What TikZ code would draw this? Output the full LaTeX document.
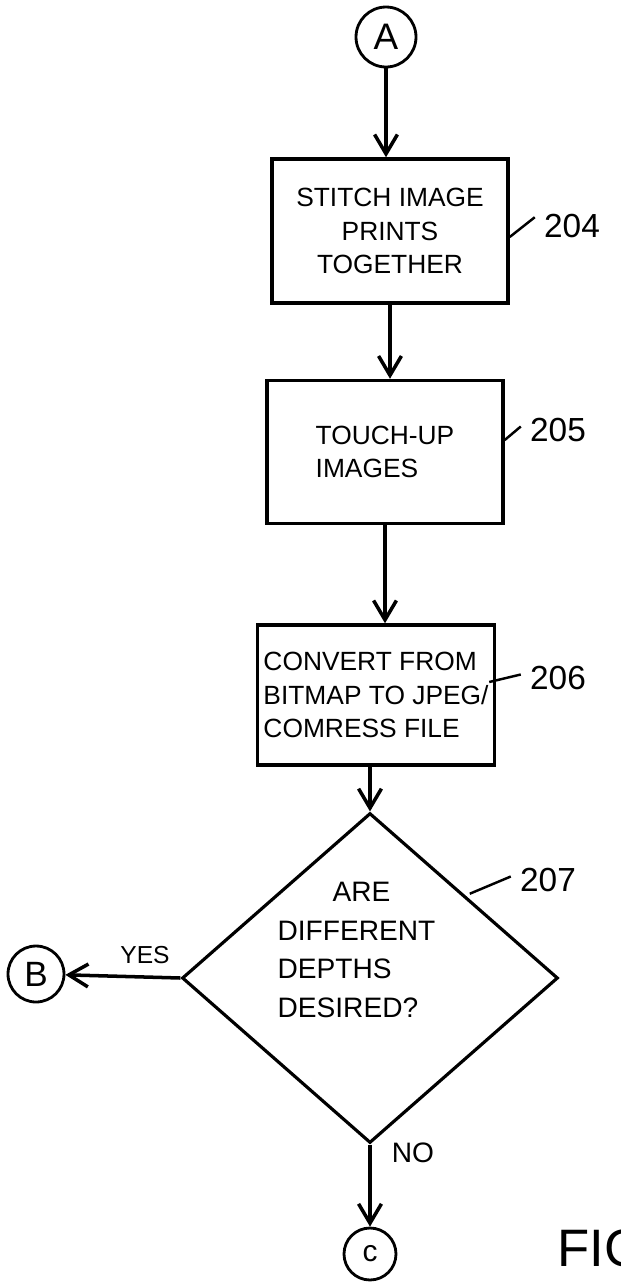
\documentclass[tikz,border=0pt]{standalone}
\usepackage{fontspec}
\setmainfont{Liberation Sans}
\usetikzlibrary{arrows.meta, shapes.geometric}

\begin{document}
\begin{tikzpicture}[
    x=0.02cm, y=-0.02cm,
    box/.style={draw, line width=2pt, minimum width=4.72cm, minimum height=2.88cm, align=center, font=\fontsize{15}{19}\selectfont},
    conn/.style={draw, circle, line width=1.6pt, inner sep=0pt},
    dia/.style={draw, diamond, line width=1.8pt, minimum width=7.52cm, minimum height=6.6cm, inner sep=0pt},
    ref/.style={font=\fontsize{19}{19}\selectfont},
    >={Straight Barb[length=11pt,width=13pt]}, line width=2pt
]
  \useasboundingbox (0,0) rectangle (621,1282);
  \clip (0,0) rectangle (621,1282);

  \node[conn, minimum size=1.2cm, font=\fontsize{21}{21}\selectfont] (A) at (386,37) {A};

  \node[box] (s1) at (390,231) {STITCH IMAGE\\PRINTS\\TOGETHER};
  \node[box, align=left, minimum height=2.86cm] (s2) at (385,452) {TOUCH-UP\\IMAGES};
  \node[box, align=left, minimum width=4.74cm, minimum height=2.8cm] (s3) at (376,695) {CONVERT FROM\\BITMAP TO JPEG/\\COMRESS FILE};

  \node[dia] (d) at (370,978) {};
  \node[anchor=west, align=left, font=\fontsize{16}{22}\selectfont] (q) at (270,950) {\hspace*{1.1cm}ARE\\DIFFERENT\\DEPTHS\\DESIRED?};

  \node[conn, minimum size=1.12cm, font=\fontsize{20}{20}\selectfont] (B) at (36,974) {B};
  \node[conn, minimum size=1.04cm, font=\fontsize{17}{17}\selectfont] (C) at (370,1254) {c};

  \draw[->] (A) -- (A |- s1.north);
  \draw[->] (s1.south) -- (s1.south |- s2.north);
  \draw[->] (s2.south) -- (s2.south |- s3.north);
  \draw[->] (d.north |- s3.south) -- (d.north);
  \draw[->] (d.west) -- (B);
  \draw[->] (d.south) -- (C);

  \node[font=\fontsize{14}{14}\selectfont] (yes) at (145,955) {YES};
  \node[font=\fontsize{16}{16}\selectfont] (no) at (413,1153) {NO};

  % reference numerals
  \node[ref] (n204) at (572,226) {204};
  \node[ref] (n205) at (558,430) {205};
  \node[ref] (n206) at (558,678) {206};
  \node[ref] (n207) at (548,880) {207};
  \draw[line width=1.4pt] ([yshift=-0.12cm]s1.east) -- ([xshift=-1pt,yshift=5pt]n204.west);
  \draw[line width=1.4pt] ([yshift=0.24cm]s2.east) -- ([xshift=-1pt,yshift=2pt]n205.west);
  \draw[line width=1.4pt] ([xshift=-0.14cm,yshift=0.26cm]s3.east) -- ([xshift=-1pt,yshift=2pt]n206.west);
  \draw[line width=1.4pt] ([shift={(0.1cm,0.02cm)}]d.north east) -- ([xshift=-1pt,yshift=2pt]n207.west);

  \node[anchor=west, font=\fontsize{30}{30}\selectfont] (fig) at (550,1248) {FIG.};
\end{tikzpicture}
\end{document}
